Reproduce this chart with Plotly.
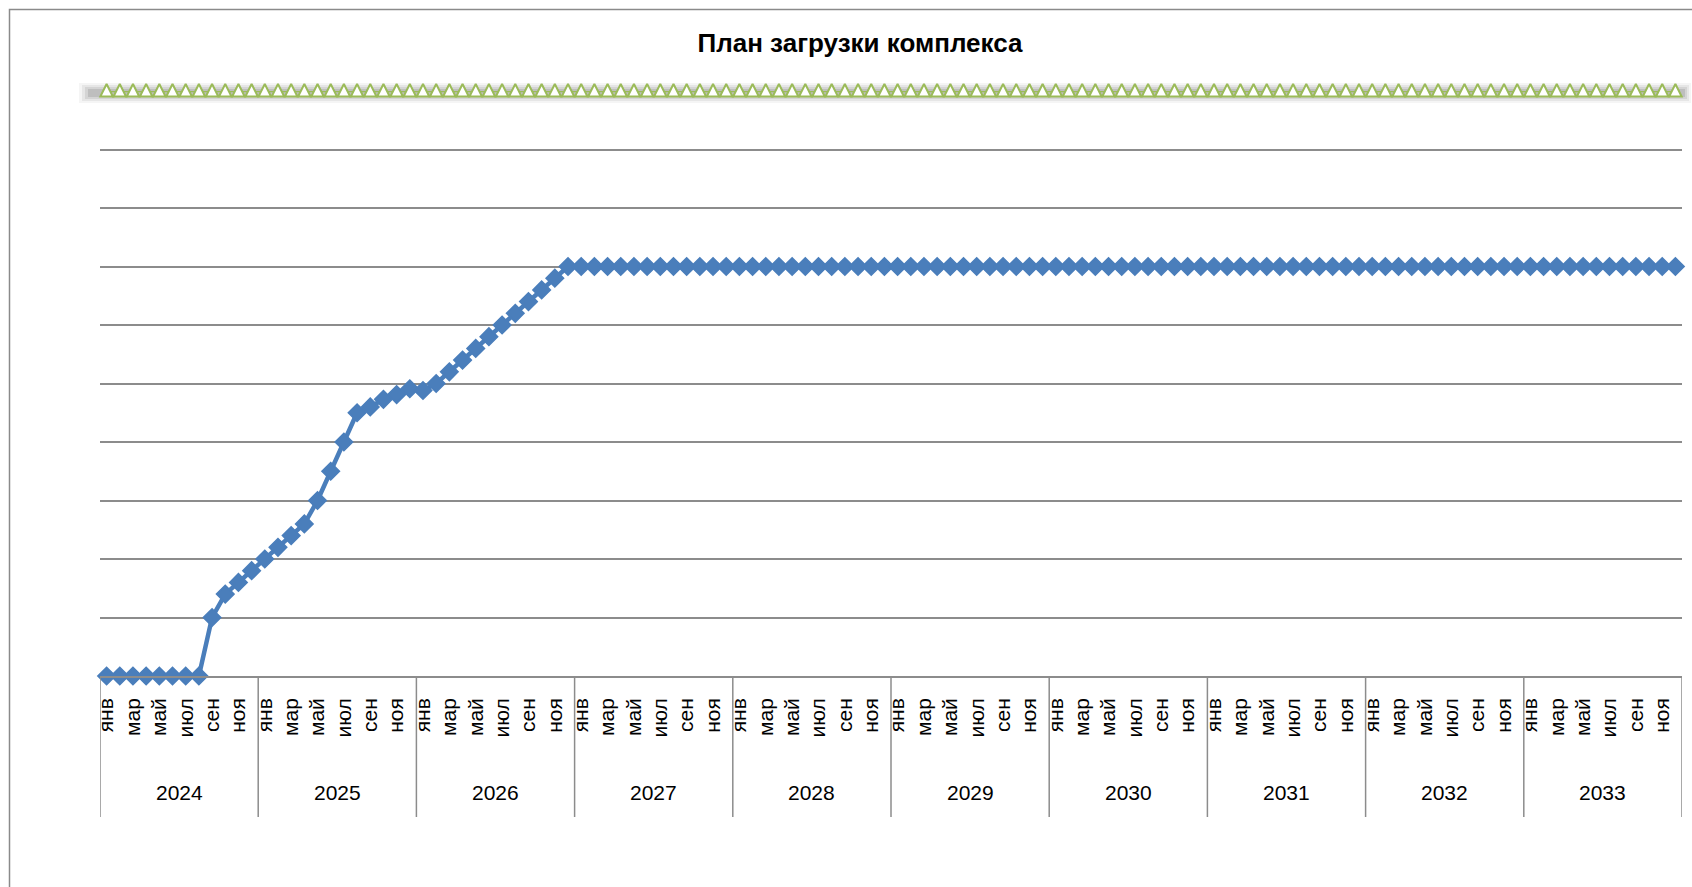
import plotly.graph_objects as go

# ---- data ----
years = [2024, 2025, 2026, 2027, 2028, 2029, 2030, 2031, 2032, 2033]
month_labels = ["янв", "мар", "май", "июл", "сен", "ноя"]

load_2024 = [0, 0, 0, 0, 0, 0, 0, 0, 10, 14, 16, 18]
load_2025 = [20, 22, 24, 26, 30, 35, 40, 45, 46, 47.3, 48.1, 49.1]
load_2026 = [48.8, 50, 52, 54, 56, 58, 60, 62, 64, 66, 68, 70]
load_2027_2033 = [70] * 84
load = load_2024 + load_2025 + load_2026 + load_2027_2033

capacity = [100] * 120

title_text = "План загрузки комплекса"

# ---- helpers (layout geometry only) ----
W, H = 1692, 887
L, R, T, B = 100, 10, 91, 211
PW, PH = W - L - R, H - T - B


def xp(px):
    return (px - L) / PW


def yp(py):
    return (H - B - py) / PH


n = len(load)
xs = list(range(n))
tickvals = list(range(0, n, 2))
ticktext = [month_labels[(i % 12) // 2] for i in tickvals]

BLUE = "#4A7EBB"
GREEN = "#9BBB59"
GRID = "#8c8c8c"
FONT = "Liberation Sans, Arial, sans-serif"

fig = go.Figure()

fig.add_trace(go.Scatter(
    x=xs, y=capacity, mode="lines",
    line=dict(color=GREEN, width=2.5),
    cliponaxis=False, showlegend=False, hoverinfo="skip"))
fig.add_trace(go.Scatter(
    x=xs, y=capacity, mode="markers",
    marker=dict(symbol="arrow-down", angle=180, standoff=7, size=12.5,
                color="white", line=dict(color=GREEN, width=2)),
    cliponaxis=False, showlegend=False, hoverinfo="skip"))

fig.add_trace(go.Scatter(
    x=xs, y=load, mode="lines+markers",
    line=dict(color=BLUE, width=4.5),
    marker=dict(symbol="diamond", size=13.5, color=BLUE,
                line=dict(color=BLUE, width=1.5)),
    cliponaxis=False, showlegend=False))

shapes = []
# chart border (extends beyond visible page on right/bottom)
shapes.append(dict(type="rect", xref="paper", yref="paper",
                   x0=xp(9.5), x1=xp(1760), y0=yp(960), y1=yp(9.5),
                   line=dict(color="#8a8a8a", width=1.5), fillcolor="rgba(0,0,0,0)",
                   layer="below"))
# soft shadow behind capacity line
for (x0, x1, y0, y1, op) in [(79, 1691, 83, 103, 0.04), (82, 1689, 85, 101, 0.06),
                              (85, 1687, 87, 99, 0.08), (88, 1685, 89, 97, 0.10)]:
    shapes.append(dict(type="rect", xref="paper", yref="paper",
                       x0=xp(x0), x1=xp(x1), y0=yp(y1), y1=yp(y0),
                       line=dict(width=0), fillcolor=f"rgba(0,0,0,{op})",
                       layer="between"))
# year separators
for k in range(len(years) + 1):
    xv = 12 * k - 0.5
    shapes.append(dict(type="line", xref="x", yref="paper",
                       x0=xv, x1=xv, y0=0, y1=yp(817),
                       line=dict(color=GRID, width=1.5)))

annotations = []
for k, yr in enumerate(years):
    annotations.append(dict(x=12 * k + 5.5, y=yp(792), xref="x", yref="paper",
                            text=str(yr), showarrow=False,
                            font=dict(family=FONT, size=21, color="black"),
                            xanchor="center", yanchor="middle"))

fig.update_layout(
    width=W, height=H, autosize=False,
    margin=dict(l=L, r=R, t=T, b=B),
    paper_bgcolor="white", plot_bgcolor="white",
    title=dict(text=f"<b>{title_text}</b>", x=860 / W, y=1 - 43 / H,
               xref="container", yref="container",
               xanchor="center", yanchor="middle",
               font=dict(family=FONT, size=26, color="black")),
    shapes=shapes, annotations=annotations,
    font=dict(family=FONT, color="black"),
)

fig.update_xaxes(range=[-0.5, n - 0.5], tickmode="array", tickvals=tickvals,
                 ticktext=ticktext, tickangle=-90, ticks="",
                 tickfont=dict(family=FONT, size=21, color="black"),
                 showgrid=False, zeroline=False, showline=True,
                 linecolor=GRID, linewidth=1.5, ticklabelstandoff=12,
                 fixedrange=True)
fig.update_yaxes(range=[0, 100], dtick=10, showticklabels=False,
                 showgrid=True, gridcolor=GRID, gridwidth=1.5,
                 zeroline=False, showline=False, ticks="", fixedrange=True)

fig.write_html("out.html")
